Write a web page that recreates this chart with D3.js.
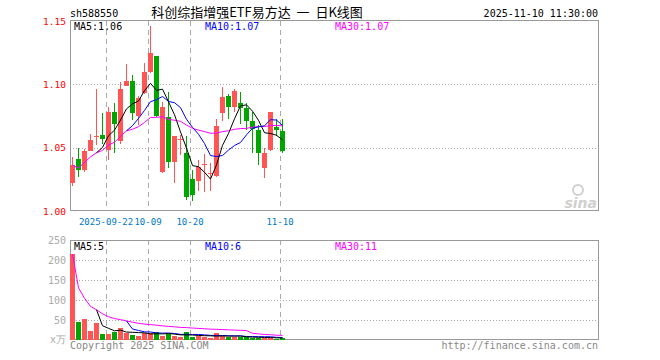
<!DOCTYPE html>
<html><head><meta charset="utf-8">
<script src="https://cdn.jsdelivr.net/npm/d3@7/dist/d3.min.js"></script>
<style>
html,body{margin:0;padding:0;background:#fff;}
svg{display:block;}
text{font-family:"DejaVu Sans Mono","Liberation Mono",monospace;}
</style></head>
<body>
<svg id="chart" width="660" height="360"></svg>
<script>
// ---- data ----
const dates = ["09-12","09-15","09-16","09-17","09-18","09-19","09-22","09-23","09-24","09-25","09-26","09-29","09-30","10-09","10-10","10-13","10-14","10-15","10-16","10-17","10-20","10-21","10-22","10-23","10-24","10-27","10-28","10-29","10-30","10-31","11-03","11-04","11-05","11-06","11-07","11-10"];
const openP  = [1.022,1.041,1.032,1.047,1.059,1.060,1.048,1.078,1.055,1.099,1.103,1.075,1.093,1.110,1.122,1.031,1.074,1.039,1.057,1.046,1.025,1.024,1.037,1.030,1.028,1.077,1.091,1.082,1.085,1.081,1.071,1.064,1.034,1.048,1.066,1.063];
const highP  = [1.043,1.050,1.049,1.061,1.096,1.077,1.082,1.085,1.102,1.116,1.107,1.091,1.117,1.146,1.122,1.086,1.094,1.059,1.060,1.059,1.032,1.040,1.045,1.038,1.073,1.098,1.092,1.096,1.094,1.085,1.078,1.068,1.050,1.078,1.073,1.073];
const lowP   = [1.020,1.027,1.031,1.047,1.052,1.053,1.040,1.046,1.053,1.099,1.072,1.068,1.092,1.109,1.074,1.030,1.034,1.022,1.044,1.009,1.008,1.016,1.015,1.016,1.027,1.071,1.073,1.078,1.069,1.064,1.046,1.036,1.026,1.047,1.059,1.046];
const closeP = [1.036,1.032,1.047,1.056,1.059,1.057,1.078,1.069,1.096,1.103,1.077,1.089,1.110,1.125,1.075,1.082,1.039,1.059,1.057,1.011,1.013,1.035,1.037,1.030,1.067,1.090,1.082,1.095,1.081,1.071,1.065,1.046,1.046,1.078,1.064,1.047];
const volume = [215,46,52,23,42,15,14,21,31,18,12.5,10,18,18,20,10,15,11,8,20,8,10,8,6,17,10,8,8,7,7,6,6,6,6,3,5];
const priceTicks = [1.00,1.05,1.10,1.15];
const volTicks = [50,100,150,200,250];
const dateTicks = [{i:6,label:"2025-09-22"},{i:13,label:"10-09"},{i:20,label:"10-20"},{i:35,label:"11-10"}];
const symbol = "sh588550";
const title = "科创综指增强ETF易方达  一  日K线图";
const stamp = "2025-11-10 11:30:00";

// ---- helpers ----
function ma(arr, n, minStart){
  return arr.map((v,i)=>{
    if(i < minStart) return null;
    const s = Math.max(0, i-n+1);
    return d3.mean(arr.slice(s, i+1));
  });
}
const RED = "#ff5555", GREEN = "#00a600", GRID = "#aaaaaa", FRAME = "#999999";
const svg = d3.select("#chart");
const L = 70, R = 598;
const N = dates.length;
const x = d3.scaleLinear().domain([0, N]).range([L, L + 6*N]);
const y = d3.scaleLinear().domain([1.00,1.15]).range([211,21]);
const yv = d3.scaleLinear().domain([0,250]).range([340,240]);

// header
svg.append("text").attr("x",70).attr("y",16.5).attr("font-size",10).attr("fill","#000").text(symbol);
svg.append("text").attr("x",257).attr("y",17).attr("text-anchor","middle").style("white-space","pre")
  .style("font-family","'Noto Sans CJK SC',sans-serif").attr("font-size",13).attr("fill","#000").text(title);
svg.append("text").attr("x",598).attr("y",16.5).attr("text-anchor","end").attr("font-size",10).attr("fill","#000").text(stamp);

// horizontal grid (price)
svg.append("g").selectAll("line").data([1.05,1.10]).join("line")
  .attr("x1",L).attr("x2",R).attr("y1",d=>Math.round(y(d))+0.5).attr("y2",d=>Math.round(y(d))+0.5)
  .attr("stroke",GRID).attr("stroke-dasharray","1,2");
// horizontal grid (volume)
svg.append("g").selectAll("line").data([50,100,150,200]).join("line")
  .attr("x1",L).attr("x2",R).attr("y1",d=>Math.round(yv(d))+0.5).attr("y2",d=>Math.round(yv(d))+0.5)
  .attr("stroke",GRID).attr("stroke-dasharray","1,2");
// vertical dashed lines
dateTicks.forEach(t=>{
  const xx = Math.round(x(t.i))+0.5;
  [[21,211],[240,340]].forEach(([a,b])=>{
    svg.append("line").attr("x1",xx).attr("x2",xx).attr("y1",a).attr("y2",b)
      .attr("stroke","#aaa").attr("stroke-dasharray","5,4");
  });
});

// frames
svg.append("rect").attr("x",L+0.5).attr("y",20.5).attr("width",R-L).attr("height",190).attr("fill","none").attr("stroke",FRAME);
svg.append("rect").attr("x",L+0.5).attr("y",240.5).attr("width",R-L).attr("height",99).attr("fill","none").attr("stroke",FRAME);

// price labels
svg.append("g").selectAll("text").data(priceTicks).join("text")
  .attr("x",66).attr("y",d=>y(d)+3.5).attr("text-anchor","end").attr("font-size",9.5).attr("fill","#ff0000")
  .text(d=>d.toFixed(2));
// volume labels
svg.append("g").selectAll("text").data(volTicks).join("text")
  .attr("x",66).attr("y",d=>yv(d)+4).attr("text-anchor","end").attr("font-size",10).attr("fill","#aaaaaa")
  .text(d=>d);
svg.append("text").attr("x",66).attr("y",343).attr("text-anchor","end").attr("font-size",10).attr("fill","#aaaaaa").text("x万");

// date labels
svg.append("g").selectAll("text").data(dateTicks).join("text")
  .attr("x",d=>x(d.i)).attr("y",225).attr("text-anchor","middle").attr("font-size",9).attr("fill","#0078c8")
  .text(d=>d.label);

// candles
const cg = svg.append("g").attr("shape-rendering","crispEdges");
d3.range(N).forEach(i=>{
  const up = closeP[i] >= openP[i];
  const col = up ? RED : GREEN;
  const x0 = Math.round(x(i));
  cg.append("line").attr("x1",x0+2.5).attr("x2",x0+2.5).attr("y1",y(highP[i])).attr("y2",y(lowP[i])).attr("stroke",col);
  const top = y(Math.max(openP[i],closeP[i])), bot = y(Math.min(openP[i],closeP[i]));
  cg.append("rect").attr("x",x0).attr("y",top).attr("width",5).attr("height",Math.max(1,bot-top)).attr("fill",col);
});

// price MAs
const ma5 = ma(closeP,5,4), ma10 = ma(closeP,10,9), ma30 = ma(closeP,30,0);
const line = d3.line().defined(d=>d[1]!=null).x(d=>x(d[0])+2.5).y(d=>y(d[1]));
[[ma30,"#ff00ff"],[ma10,"#0000ff"],[ma5,"#000000"]].forEach(([arr,c])=>{
  svg.append("path").attr("d",line(arr.map((v,i)=>[i,v]))).attr("fill","none").attr("stroke",c).attr("stroke-width",1);
});

// volume bars
const vg = svg.append("g").attr("shape-rendering","crispEdges");
d3.range(N).forEach(i=>{
  const up = closeP[i] >= openP[i];
  const x0 = Math.round(x(i));
  vg.append("rect").attr("x",x0).attr("y",yv(volume[i])).attr("width",5).attr("height",340-yv(volume[i])).attr("fill",up?RED:GREEN);
});
const vma5 = ma(volume,5,4), vma10 = ma(volume,10,9), vma30 = ma(volume,30,0);
const vline = d3.line().defined(d=>d[1]!=null).x(d=>x(d[0])+2.5).y(d=>yv(d[1]));
[[vma30,"#ff00ff"],[vma10,"#0000ff"],[vma5,"#000000"]].forEach(([arr,c])=>{
  svg.append("path").attr("d",vline(arr.map((v,i)=>[i,v]))).attr("fill","none").attr("stroke",c).attr("stroke-width",1);
});

// legends
const last = N-1;
svg.append("text").attr("x",74).attr("y",30).attr("font-size",10).attr("fill","#000").text("MA5:"+ma5[last].toFixed(2));
svg.append("text").attr("x",205).attr("y",30).attr("font-size",10).attr("fill","#0000ff").text("MA10:"+ma10[last].toFixed(2));
svg.append("text").attr("x",335).attr("y",30).attr("font-size",10).attr("fill","#ff00ff").text("MA30:"+ma30[last].toFixed(2));
svg.append("text").attr("x",74).attr("y",250).attr("font-size",10).attr("fill","#000").text("MA5:"+Math.floor(vma5[last]));
svg.append("text").attr("x",205).attr("y",250).attr("font-size",10).attr("fill","#0000ff").text("MA10:"+Math.floor(vma10[last]));
svg.append("text").attr("x",335).attr("y",250).attr("font-size",10).attr("fill","#ff00ff").text("MA30:"+Math.floor(vma30[last]));

// footer
svg.append("text").attr("x",70).attr("y",349).attr("font-size",10).attr("fill","#888").text("Copyright 2025 SINA.COM");
svg.append("text").attr("x",598).attr("y",349).attr("text-anchor","end").attr("font-size",10).attr("fill","#888").text("http://finance.sina.com.cn");

// watermark
const wm = svg.append("g").attr("fill","#d0d0d0");
wm.append("text").attr("x",597).attr("y",208).attr("text-anchor","end").attr("font-size",14)
  .style("font-family","'DejaVu Sans',sans-serif").attr("font-style","italic").attr("font-weight","bold").text("sina");
wm.append("circle").attr("cx",578).attr("cy",190).attr("r",5).attr("fill","none").attr("stroke","#d0d0d0").attr("stroke-width",2);
</script>
</body></html>
